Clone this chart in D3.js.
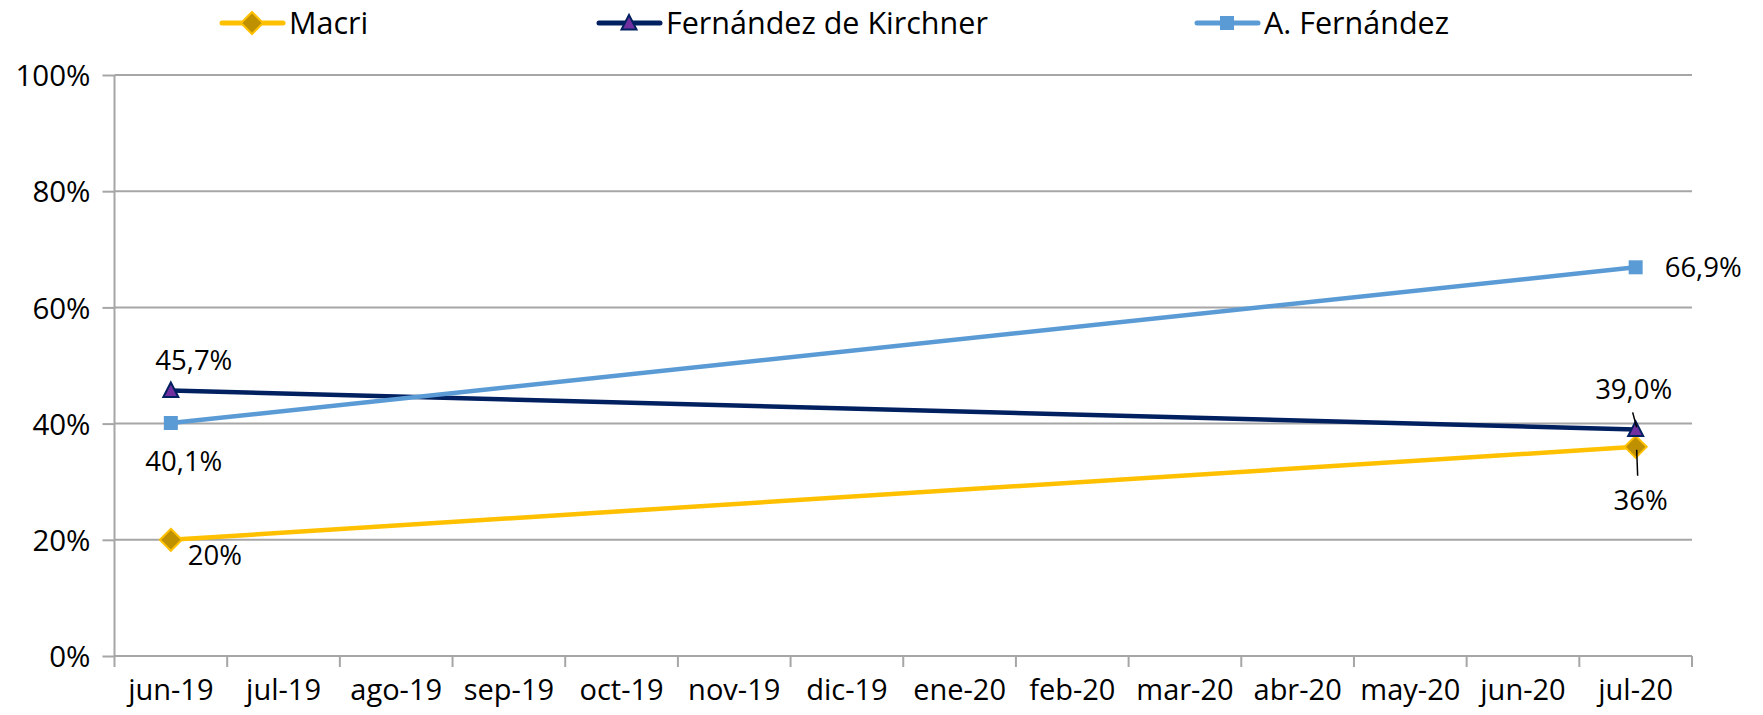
<!DOCTYPE html>
<html>
<head>
<meta charset="utf-8">
<script src="https://cdn.jsdelivr.net/npm/d3@7"></script>
<style>
  body { margin: 0; background: #fff; }
  svg { display: block; }
  text { font-family: 'Open Sans', sans-serif; fill: #000; }
</style>
</head>
<body>
<svg id="chart"></svg>
<script>
// chart data
const categories = ['jun-19', 'jul-19', 'ago-19', 'sep-19', 'oct-19', 'nov-19', 'dic-19',
    'ene-20', 'feb-20', 'mar-20', 'abr-20', 'may-20', 'jun-20', 'jul-20'];
const macri = [20, null, null, null, null, null, null, null, null, null, null, null, null, 36];
const fernandezDeKirchner = [45.7, null, null, null, null, null, null, null, null, null, null, null, null, 39.0];
const aFernandez = [40.1, null, null, null, null, null, null, null, null, null, null, null, null, 66.9];
const yTicks = [0, 20, 40, 60, 80, 100];

const width = 1763, height = 715;
const margin = {top: 75, right: 71, bottom: 59, left: 114.5};

const svg = d3.select('#chart').attr('width', width).attr('height', height);

const x = d3.scaleBand().domain(categories).range([margin.left, width - margin.right]).padding(0);
const y = d3.scaleLinear().domain([0, 100]).range([height - margin.bottom, margin.top]);
const cx = d => x(d) + x.bandwidth() / 2;

const series = [
    {name: 'Macri', values: macri, color: '#FFC000', marker: 'diamond', fill: '#BF9000', stroke: '#FFC000',
        fmt: v => d3.format('.0f')(v) + '%',
        labels: [{dx: 44, dy: 25}, {dx: 5, dy: 63, leader: [[1, 3], [2, 29]]}]},
    {name: 'Fernández de Kirchner', values: fernandezDeKirchner, color: '#002060', marker: 'triangle', fill: '#7030A0', stroke: '#002060',
        fmt: v => d3.format('.1f')(v).replace('.', ',') + '%',
        labels: [{dx: 23, dy: -20}, {dx: -2, dy: -30, leader: [[-3, -17], [1, -2]]}]},
    {name: 'A. Fernández', values: aFernandez, color: '#5B9BD5', marker: 'square', fill: '#5B9BD5', stroke: '#5B9BD5',
        fmt: v => d3.format('.1f')(v).replace('.', ',') + '%',
        labels: [{dx: 13, dy: 48}, {dx: 29, dy: 10, anchor: 'start'}]}
];

function markerPath(type) {
    if (type === 'diamond') return 'M0,-11L11,0L0,11L-11,0Z';
    if (type === 'triangle') return 'M0,-8L7.5,6.5L-7.5,6.5Z';
    return 'M-7,-7L7,-7L7,7L-7,7Z';
}

// gridlines + y axis
const yAxis = d3.axisLeft(y).tickValues(yTicks).tickSize(12).tickFormat(d => d + '%');
const yg = svg.append('g').attr('transform', `translate(${margin.left},0)`).call(yAxis);
yg.select('.domain').remove();
yg.selectAll('.tick line').attr('stroke', '#A6A6A6').attr('stroke-width', 2);
yg.selectAll('.tick text').attr('x', -24).attr('dy', '0.36em').style('font-size', '29.5px')
    .style('font-family', "'Open Sans', sans-serif").attr('fill', '#000');

svg.append('g').selectAll('line').data(yTicks).join('line')
    .attr('x1', margin.left).attr('x2', width - margin.right)
    .attr('y1', d => y(d)).attr('y2', d => y(d))
    .attr('stroke', '#A6A6A6').attr('stroke-width', 2);

svg.append('line')
    .attr('x1', margin.left).attr('x2', margin.left)
    .attr('y1', y(100)).attr('y2', y(0))
    .attr('stroke', '#A6A6A6').attr('stroke-width', 2);

// x axis: ticks at band edges
const xg = svg.append('g').attr('transform', `translate(0,${y(0)})`)
    .call(d3.axisBottom(x).tickSize(0).tickPadding(23));
xg.select('.domain').remove();
xg.selectAll('.tick text').style('font-size', '29px').style('font-family', "'Open Sans', sans-serif")
    .attr('fill', '#000');

const edges = categories.map(c => x(c)).concat([x(categories[categories.length - 1]) + x.bandwidth()]);
xg.selectAll('line.edge').data(edges).join('line')
    .attr('class', 'edge')
    .attr('x1', d => d).attr('x2', d => d)
    .attr('y1', 0).attr('y2', 11)
    .attr('stroke', '#A6A6A6').attr('stroke-width', 2);

// lines
const line = d3.line().x(d => cx(d.cat)).y(d => y(d.v));

series.forEach(s => {
    const pts = categories.map((c, i) => ({cat: c, v: s.values[i]})).filter(d => d.v !== null);
    const g = svg.append('g');
    g.append('path').datum(pts)
        .attr('d', line)
        .attr('fill', 'none')
        .attr('stroke', s.color)
        .attr('stroke-width', 4.5);
    g.selectAll('path.marker').data(pts).join('path')
        .attr('class', 'marker')
        .attr('transform', d => `translate(${cx(d.cat)},${y(d.v)})`)
        .attr('d', markerPath(s.marker))
        .attr('fill', s.fill)
        .attr('stroke', s.stroke)
        .attr('stroke-width', s.marker === 'square' ? 0 : 2);
    s.pts = pts;
});

// data labels
series.forEach(s => {
    s.pts.forEach((d, i) => {
        const lab = s.labels[i];
        const px = cx(d.cat), py = y(d.v);
        if (lab.leader) {
            svg.append('line')
                .attr('x1', px + lab.leader[0][0]).attr('y1', py + lab.leader[0][1])
                .attr('x2', px + lab.leader[1][0]).attr('y2', py + lab.leader[1][1])
                .attr('stroke', '#000').attr('stroke-width', 1.5);
        }
        svg.append('text')
            .attr('x', px + lab.dx)
            .attr('y', py + lab.dy)
            .attr('text-anchor', lab.anchor || 'middle')
            .style('font-size', '27.5px')
            .text(s.fmt(d.v));
    });
});

// legend
const legendX = [222, 599, 1197];
const legend = svg.append('g');
series.forEach((s, i) => {
    const g = legend.append('g').attr('transform', `translate(${legendX[i]},23)`);
    g.append('line').attr('x1', 0).attr('x2', 61).attr('y1', 0).attr('y2', 0)
        .attr('stroke', s.color).attr('stroke-width', 5).attr('stroke-linecap', 'round');
    g.append('path').attr('transform', 'translate(30,0)')
        .attr('d', markerPath(s.marker))
        .attr('fill', s.fill).attr('stroke', s.stroke)
        .attr('stroke-width', s.marker === 'square' ? 0 : 2);
    g.append('text').attr('x', 67).attr('y', 0).attr('dy', '0.35em')
        .style('font-size', '30.5px')
        .text(s.name);
});
</script>
</body>
</html>
